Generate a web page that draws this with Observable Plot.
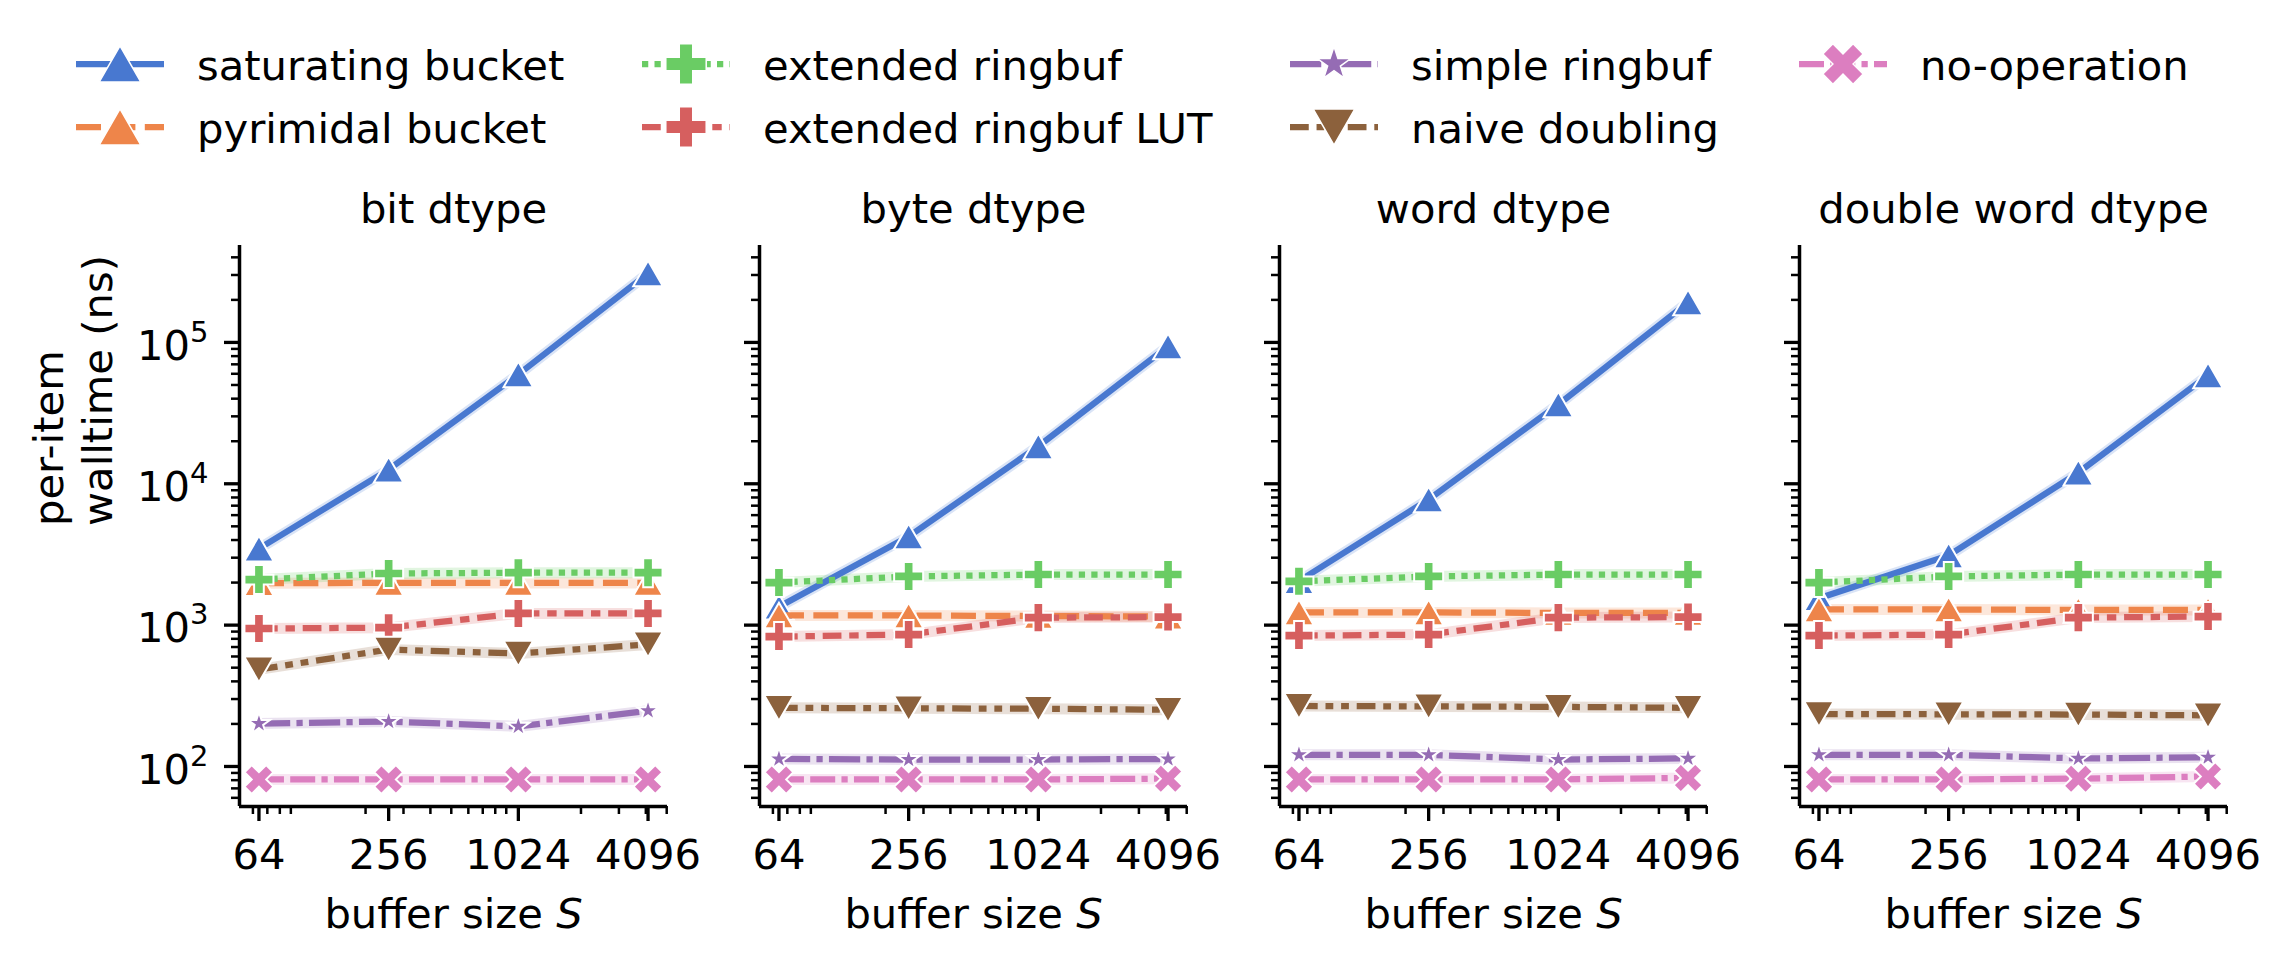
<!DOCTYPE html>
<html>
<head>
<meta charset="utf-8">
<script src="https://cdn.jsdelivr.net/npm/d3@7"></script>
<script src="https://cdn.jsdelivr.net/npm/@observablehq/plot@0.6"></script>
<style>
  html, body { margin: 0; padding: 0; background: #fff; }
  #wrap { position: relative; width: 2288px; height: 965px; font-family: "DejaVu Sans", sans-serif; background: #fff; }
  #legend { position: absolute; left: 0; top: 0; }
  #chart { position: absolute; left: 0; top: 170px; }
</style>
</head>
<body>
<div id="wrap">
  <svg id="legend" width="2288" height="170"></svg>
  <div id="chart"></div>
</div>
<script>
// ---------------- data ----------------
const sizes = [64, 256, 1024, 4096];
const dtypes = ["bit", "byte", "word", "double word"];
const panelTitles = ["bit dtype", "byte dtype", "word dtype", "double word dtype"];
const seriesNames = [
  "saturating bucket", "pyrimidal bucket", "extended ringbuf", "extended ringbuf LUT",
  "simple ringbuf", "naive doubling", "no-operation"
];
const seriesColors = ["#4878d0", "#ee854a", "#6acc64", "#d65f5f", "#956cb4", "#8c613c", "#dc7ec0"];

// per-item walltime (ns); rows = dtype (bit, byte, word, double word), cols = buffer size
const saturatingBucket = [[3480, 12600, 59400, 308000], [1350, 4240, 18400, 93700], [2050, 7740, 36400, 192000], [1550, 3110, 12000, 58500]];
const pyrimidalBucket  = [[1980, 1990, 1990, 1990], [1170, 1170, 1160, 1150], [1230, 1230, 1220, 1220], [1290, 1290, 1280, 1280]];
const extendedRingbuf  = [[2100, 2320, 2350, 2350], [2000, 2210, 2280, 2280], [2040, 2210, 2280, 2280], [2000, 2210, 2280, 2280]];
const extendedRingbufLUT = [[946, 960, 1210, 1210], [830, 857, 1130, 1140], [843, 857, 1130, 1140], [843, 857, 1130, 1150]];
const simpleRingbuf    = [[201, 208, 192, 248], [113, 112, 112, 113], [121, 121, 112, 114], [121, 121, 114, 116]];
const naiveDoubling    = [[486, 672, 630, 730], [260, 258, 256, 252], [268, 266, 264, 260], [235, 234, 233, 230]];
const noOperation      = [[81, 81, 81, 81], [81, 81, 81, 82], [81, 81, 81, 83], [81, 81, 82, 85]];
const seriesValues = [saturatingBucket, pyrimidalBucket, extendedRingbuf, extendedRingbufLUT, simpleRingbuf, naiveDoubling, noOperation];

const xMajorTicks = [64, 256, 1024, 4096];
const xMinorTicks = [60, 70, 80, 90, 200, 300, 400, 500, 600, 700, 800, 900, 2000, 3000, 4000, 5000];
const yMajorTicks = [100, 1000, 10000, 100000];
const yMinorTicks = [60, 70, 80, 90, 200, 300, 400, 500, 600, 700, 800, 900,
  2000, 3000, 4000, 5000, 6000, 7000, 8000, 9000,
  20000, 30000, 40000, 50000, 60000, 70000, 80000, 90000, 200000, 300000, 400000];
const yLabel = "per-item\nwalltime (ns)";
const xLabel = "buffer size S";

// ---------------- styles ----------------
const dashes = [null, "25,9.4", "6.25,6.25", "18.75,7.8,9.4,7.8", "31.25,6.25,6.25,6.25",
  "18.75,7.8,7.8,7.8,7.8,7.8", "25,6.25,25,6.25,6.25,6.25"];
const symbols = ["triangle", "triangle", "cross", "cross", "star", "triangle", "cross"];
const rotations = [0, 0, 0, 0, 0, 180, 45];
const markerR = [11, 11, 12.2, 12.2, 6.9, 11, 12.9];
const markerDy = [4.3, 4.3, 0, 0, 0, -4.3, 0];

const rows = [];
seriesNames.forEach((name, si) => {
  dtypes.forEach((dt, di) => {
    sizes.forEach((s, k) => rows.push({series: name, dtype: dt, size: s, value: seriesValues[si][di][k]}));
  });
});

// ---------------- chart ----------------
const marks = [];
// light confidence bands under all lines
seriesNames.forEach((name, i) => {
  marks.push(Plot.line(rows.filter(d => d.series === name), {
    x: "size", y: "value", fx: "dtype", stroke: seriesColors[i],
    strokeWidth: 11, strokeOpacity: 0.2, strokeLinecap: "butt", strokeLinejoin: "round"
  }));
});
seriesNames.forEach((name, i) => {
  const sub = rows.filter(d => d.series === name);
  marks.push(Plot.line(sub, {
    x: "size", y: "value", fx: "dtype", stroke: seriesColors[i], strokeWidth: 6.25,
    strokeDasharray: dashes[i] || undefined,
    strokeLinecap: dashes[i] ? "butt" : "square", strokeLinejoin: "round"
  }));
  marks.push(Plot.dot(sub, {
    x: "size", y: "value", fx: "dtype", symbol: symbols[i], r: markerR[i],
    rotate: rotations[i], dy: markerDy[i],
    fill: seriesColors[i], stroke: "white", strokeWidth: 2
  }));
});

const xDomain = [Math.pow(2, 5.7), Math.pow(2, 12.3)];
const yDomain = [52.1, 485000];

const chart = Plot.plot({
  width: 2288,
  height: 795,
  marginLeft: 239,
  marginRight: 61,
  marginTop: 75,
  marginBottom: 159,
  facet: {marginTop: 0, marginBottom: 0, marginLeft: 0, marginRight: 0},
  style: {fontFamily: "DejaVu Sans", fontSize: "41.7px", color: "black", background: "white"},
  fx: {domain: dtypes, axis: null, paddingInner: 0.177, paddingOuter: 0},
  x: {type: "log", base: 2, domain: xDomain, axis: null},
  y: {type: "log", domain: yDomain, axis: null},
  marks: [
    ...marks,
    Plot.axisY(yMinorTicks, {anchor: "left", tickSize: 8, strokeWidth: 2.5, fill: "none", label: null, facetAnchor: null}),
    Plot.axisY(yMajorTicks, {anchor: "left", tickSize: 15, strokeWidth: 3.3, fill: "none", label: null, facetAnchor: null}),
    Plot.axisY(yMajorTicks, {anchor: "left", tickSize: 15, tickPadding: 16, stroke: "none", label: null,
      tickFormat: d => "10^" + Math.round(Math.log10(d)), dy: 4}),
    Plot.axisX(xMinorTicks, {anchor: "bottom", tickSize: 8, strokeWidth: 2.5, fill: "none", label: null}),
    Plot.axisX(xMajorTicks, {anchor: "bottom", tickSize: 15, strokeWidth: 3.3, tickPadding: 17.5, label: null,
      tickFormat: d => String(d)}),
    Plot.ruleX([xDomain[0]], {stroke: "black", strokeWidth: 3.5}),
    Plot.ruleY([yDomain[0]], {stroke: "black", strokeWidth: 3.5}),
    Plot.text(panelTitles, {fx: (d, i) => dtypes[i], text: d => d, frameAnchor: "top", lineAnchor: "bottom", dy: -23, fill: "black"}),
    Plot.text(dtypes, {fx: d => d, text: () => xLabel, frameAnchor: "bottom", lineAnchor: "bottom", dy: 121, fill: "black"}),
    Plot.text([yLabel], {fx: () => dtypes[0], text: d => d, frameAnchor: "left", rotate: -90, lineHeight: 1.17, dx: -168, fill: "black"})
  ]
});
document.getElementById("chart").appendChild(chart);

// mathtext-like superscripts and italic S
d3.select(chart).selectAll("text").each(function () {
  const t = this.textContent;
  const m = /^10\^(\d)$/.exec(t);
  if (m) {
    this.textContent = "10";
    d3.select(this).append("tspan").attr("dy", "-18").attr("font-size", "29px").text(m[1]);
  } else if (t === xLabel) {
    this.textContent = "buffer size ";
    d3.select(this).append("tspan").attr("font-style", "italic").text("S");
  }
});

// ---------------- legend ----------------
const legend = d3.select("#legend");
const legendTextX = [197, 763, 1411, 1920];
const legendRowY = [64, 127];
const legendSymbols = [d3.symbolTriangle, d3.symbolTriangle, d3.symbolCross, d3.symbolCross, d3.symbolStar, d3.symbolTriangle, d3.symbolCross];
const legendR = [15.5, 15.5, 17, 17, 10.5, 15.5, 18];
const legendDy = [6, 6, 0, 0, 0, -6, 0];
seriesNames.forEach((name, i) => {
  const col = Math.floor(i / 2), row = i % 2;
  const tx = legendTextX[col], cy = legendRowY[row], cx = tx - 77;
  const g = legend.append("g");
  g.append("line").attr("x1", cx - 44).attr("x2", cx + 44).attr("y1", cy).attr("y2", cy)
    .attr("stroke", seriesColors[i]).attr("stroke-width", 6.25)
    .attr("stroke-dasharray", dashes[i] || null).attr("stroke-linecap", "butt");
  g.append("path").attr("d", d3.symbol(legendSymbols[i], Math.PI * legendR[i] * legendR[i])())
    .attr("transform", `translate(${cx},${cy + legendDy[i]}) rotate(${rotations[i]})`)
    .attr("fill", seriesColors[i]).attr("stroke", "white").attr("stroke-width", 1.5);
  g.append("text").attr("x", tx).attr("y", cy + 16).attr("font-size", "41.7px")
    .attr("font-family", "DejaVu Sans").attr("fill", "black").text(name);
});
</script>
</body>
</html>
